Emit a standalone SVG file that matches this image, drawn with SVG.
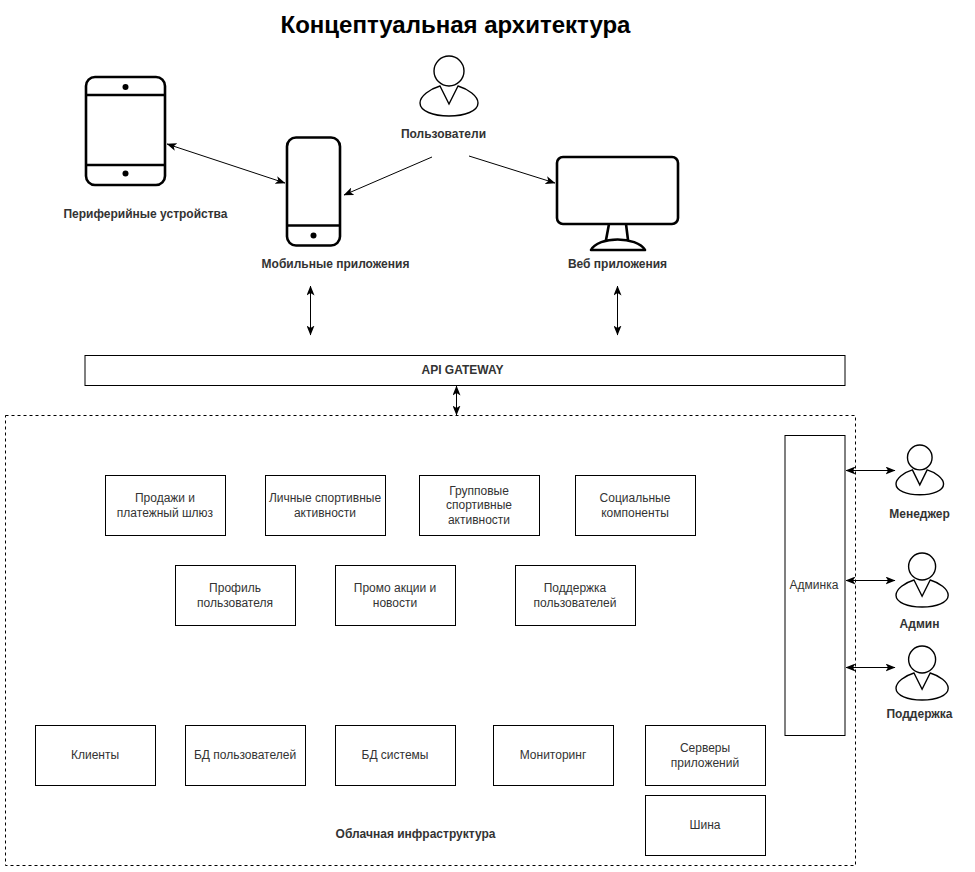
<svg xmlns="http://www.w3.org/2000/svg" xmlns:xlink="http://www.w3.org/1999/xlink" width="975" height="872" viewBox="0 0 975 872">
<style>
text{font-family:"Liberation Sans",Arial,sans-serif;text-anchor:middle;font-size:12px;fill:#333}
.lbl{font-weight:bold;fill:#333}
.title{font-size:24px;font-weight:bold;fill:#000}
.box{fill:#fff;stroke:#000;stroke-width:1}
.ic{fill:#fff;stroke:#000;stroke-width:2.6;stroke-linejoin:round}
.p{fill:#fff;stroke:#000;stroke-width:1.4;vector-effect:non-scaling-stroke}
.c{fill:none;stroke:#000;stroke-width:1}
.dash{fill:none;stroke:#000;stroke-width:1;stroke-dasharray:3 3}
</style>
<defs>
<marker id="a" viewBox="0 0 10 8" refX="9.500" refY="4" markerWidth="10" markerHeight="8" markerUnits="userSpaceOnUse" orient="auto-start-reverse"><path d="M0,0L10,4L0,8L2.500,4Z" fill="#000"/></marker>
<g id="person"><circle cx="29" cy="15" r="15" class="p"/><path class="p" d="M20,30L29,48L38,30C48,33 58,40 58,47C58,55 45,60 29,60C13,60 0,55 0,47C0,40 10,33 20,30Z"/></g>
</defs>
<rect width="975" height="872" fill="#fff"/>
<text class="title" x="455.500" y="33">Концептуальная архитектура</text>
<g id="cloud"><rect class="dash" x="5.500" y="415.500" width="850" height="450"/><text class="lbl" x="415.500" y="838">Облачная инфраструктура</text></g>
<g id="tablet"><rect class="ic" x="86" y="77" width="79" height="108" rx="9"/><path class="ic" d="M86,95H165M86,165H165"/><circle cx="125.500" cy="87" r="3"/><circle cx="125.500" cy="173.500" r="3"/><text class="lbl" x="145.500" y="218">Периферийные устройства</text></g>
<g id="phone"><rect class="ic" x="287" y="137.500" width="53" height="108" rx="9"/><path class="ic" d="M287,225.500H340"/><circle cx="313.500" cy="235.500" r="3"/><text class="lbl" x="335.500" y="268">Мобильные приложения</text></g>
<g id="users"><use href="#person" x="420" y="56"/><text class="lbl" x="443.500" y="138">Пользователи</text></g>
<g id="web"><rect class="ic" x="557" y="157" width="121" height="67" rx="6"/><path class="ic" d="M609,224L606,240M626,224L628,240M591,250C598,236 637,236 645,250Z"/><text class="lbl" x="617.500" y="268">Веб приложения</text></g>
<g id="gateway"><rect class="box" x="85" y="355.500" width="760" height="30"/><text class="lbl" x="462.500" y="374">API GATEWAY</text></g>
<g id="sales"><rect class="box" x="105.500" y="475.500" width="120" height="60"/><text x="165" y="502">Продажи и</text><text x="165" y="517">платежный шлюз</text></g>
<g id="personal"><rect class="box" x="265.500" y="475.500" width="120" height="60"/><text x="325" y="502">Личные спортивные</text><text x="325" y="517">активности</text></g>
<g id="group"><rect class="box" x="419.500" y="475.500" width="120" height="60"/><text x="479" y="495">Групповые</text><text x="479" y="509">спортивные</text><text x="479" y="524">активности</text></g>
<g id="social"><rect class="box" x="575.500" y="475.500" width="120" height="60"/><text x="635" y="502">Социальные</text><text x="635" y="517">компоненты</text></g>
<g id="profile"><rect class="box" x="175.500" y="565.500" width="120" height="60"/><text x="235" y="592">Профиль</text><text x="235" y="607">пользователя</text></g>
<g id="promo"><rect class="box" x="335.500" y="565.500" width="120" height="60"/><text x="395" y="592">Промо акции и</text><text x="395" y="607">новости</text></g>
<g id="support"><rect class="box" x="515.500" y="565.500" width="120" height="60"/><text x="575" y="592">Поддержка</text><text x="575" y="607">пользователей</text></g>
<g id="clients"><rect class="box" x="35.500" y="725.500" width="120" height="60"/><text x="95" y="759">Клиенты</text></g>
<g id="dbusers"><rect class="box" x="185.500" y="725.500" width="120" height="60"/><text x="245" y="759">БД пользователей</text></g>
<g id="dbsys"><rect class="box" x="335.500" y="725.500" width="120" height="60"/><text x="395" y="759">БД системы</text></g>
<g id="monitoring"><rect class="box" x="493.500" y="725.500" width="120" height="60"/><text x="553" y="759">Мониторинг</text></g>
<g id="servers"><rect class="box" x="645.500" y="725.500" width="120" height="60"/><text x="705" y="752">Серверы</text><text x="705" y="767">приложений</text></g>
<g id="bus"><rect class="box" x="645.500" y="795.500" width="120" height="60"/><text x="705" y="829">Шина</text></g>
<g id="admin"><rect class="box" x="785" y="435.500" width="60" height="300"/><text x="814" y="589">Админка</text></g>
<g id="manager"><use href="#person" transform="translate(896,445) scale(.82,.83)"/><text class="lbl" x="919.500" y="518">Менеджер</text></g>
<g id="adm"><use href="#person" transform="translate(896,553) scale(.9)"/><text class="lbl" x="919.500" y="628">Админ</text></g>
<g id="help"><use href="#person" transform="translate(896,646) scale(.9)"/><text class="lbl" x="919.500" y="718">Поддержка</text></g>
<g id="connectors">
<path class="c" marker-start="url(#a)" marker-end="url(#a)" d="M167,144L285,183"/>
<path class="c" marker-end="url(#a)" d="M432,157L344,195"/>
<path class="c" marker-end="url(#a)" d="M469,156L555,183"/>
<path class="c" marker-start="url(#a)" marker-end="url(#a)" d="M310.500,286V335"/>
<path class="c" marker-start="url(#a)" marker-end="url(#a)" d="M617.500,286V335"/>
<path class="c" marker-start="url(#a)" marker-end="url(#a)" d="M456.500,386V415"/>
<path class="c" marker-start="url(#a)" marker-end="url(#a)" d="M846,470.500H895"/>
<path class="c" marker-start="url(#a)" marker-end="url(#a)" d="M846,580.500H895"/>
<path class="c" marker-start="url(#a)" marker-end="url(#a)" d="M846,667.500H895"/>
</g>
</svg>
